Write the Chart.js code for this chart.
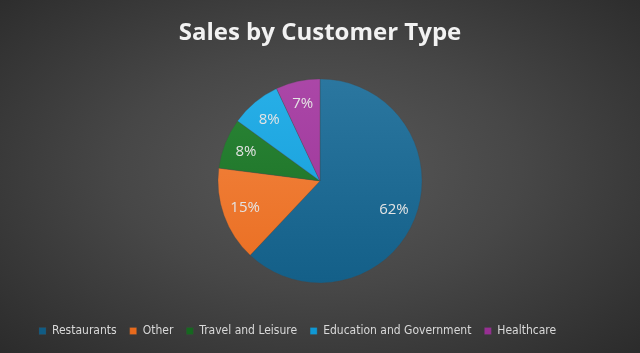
<!DOCTYPE html>
<html lang="en">
<head>
  <meta charset="UTF-8" />
  <title>Sales by Customer Type</title>
  <script src="https://cdn.jsdelivr.net/npm/chart.js"></script>
  <style>
    html, body { margin: 0; padding: 0; }
    body { width: 640px; height: 353px; overflow: hidden;
      background: radial-gradient(ellipse 70% 75% at 50% 48%, #595959 0%, #474747 45%, #2b2b2b 100%); }
    #wrap { width: 640px; height: 353px; position: relative; }
  </style>
</head>
<body>
  <div id="wrap"><canvas id="pie"></canvas></div>
  <script>
    const categories = ['Restaurants', 'Other', 'Travel and Leisure', 'Education and Government', 'Healthcare'];
    const shares = [62, 15, 8, 8, 7];
    const topColors = ['#2e7aa3', '#f58a48', '#2e8a3a', '#2bb2ea', '#ad4aaa'];
    const bottomColors = ['#105c85', '#e86a1c', '#15681f', '#0f98d4', '#972f93'];

    // slices get a light-to-dark vertical gradient
    function sliceFill(ctx) {
      const chart = ctx.chart;
      const area = chart.chartArea;
      if (!area) return topColors[ctx.dataIndex];
      const g = chart.ctx.createLinearGradient(0, area.top, 0, area.bottom);
      g.addColorStop(0, topColors[ctx.dataIndex]);
      g.addColorStop(1, bottomColors[ctx.dataIndex]);
      return g;
    }

    const pctLabels = {
      id: 'pctLabels',
      afterDatasetsDraw(chart) {
        const c = chart.ctx;
        const meta = chart.getDatasetMeta(0);
        c.save();
        c.font = '15px "Open Sans", sans-serif';
        c.fillStyle = '#e4e4e4';
        c.textAlign = 'center';
        c.textBaseline = 'middle';
        meta.data.forEach((arc, i) => {
          const mid = (arc.startAngle + arc.endAngle) / 2;
          const r = arc.outerRadius * 0.78;
          c.fillText(shares[i] + '%', arc.x + Math.cos(mid) * r, arc.y + Math.sin(mid) * r);
        });
        c.restore();
      }
    };

    new Chart(document.getElementById('pie'), {
      type: 'pie',
      data: {
        labels: categories,
        datasets: [{
          data: shares,
          backgroundColor: sliceFill,
          borderWidth: 0.5,
          borderColor: 'rgba(70,70,70,0.6)'
        }]
      },
      options: {
        responsive: true,
        maintainAspectRatio: false,
        animation: false,
        radius: 102,
        layout: { padding: { top: 4, bottom: 6, left: 26, right: 26 } },
        plugins: {
          title: {
            display: true,
            text: 'Sales by Customer Type',
            color: '#f2f2f2',
            font: { family: '"Open Sans", sans-serif', size: 24, weight: 'bold' },
            padding: { top: 15, bottom: 2 }
          },
          legend: {
            position: 'bottom',
            align: 'start',
            labels: {
              color: '#d9d9d9',
              boxWidth: 7,
              boxHeight: 7,
              padding: 13,
              font: { family: '"DejaVu Sans Condensed", sans-serif', size: 12 }
            }
          },
          tooltip: { enabled: false }
        }
      },
      plugins: [pctLabels]
    });
  </script>
</body>
</html>
